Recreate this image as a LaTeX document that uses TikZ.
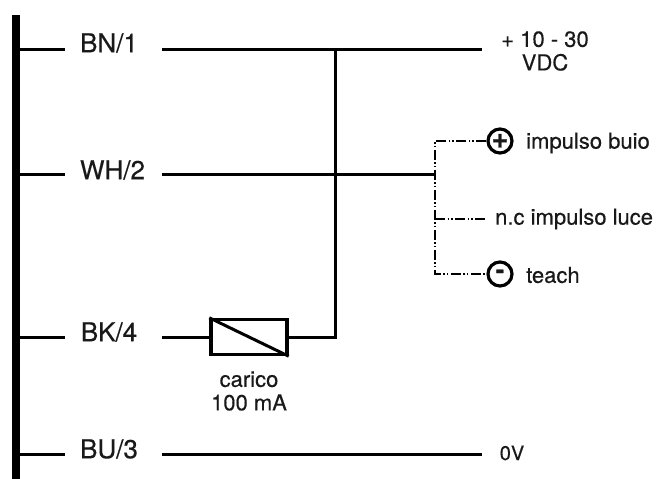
\documentclass[tikz,border=0pt]{standalone}
\usepackage{fontspec}
\setmainfont[RawFeature={embolden=0.4}]{TeX Gyre Heros}
\usepackage{tikz}
\usetikzlibrary{calc}
\usetikzlibrary{positioning}

\begin{document}
\begin{tikzpicture}[x=1pt,y=-1pt,every node/.style = {align=center,text=black!90},
wire/.style={line width=3pt,line cap=butt},
bus/.style={line width=8pt},
aux/.style={line width=1.1pt,dash pattern=on 10pt off 2.5pt on 1.5pt off 2pt on 1.5pt off 2.5pt},
pin/.style={font=\fontsize{26}{26}\selectfont,inner sep=0pt},
note/.style={font=\fontsize{22}{23.5}\selectfont,inner sep=0pt},
term/.style={circle,draw,line width=3.2pt,minimum size=24pt,inner sep=0pt,font=\fontsize{25}{25}\selectfont\bfseries},
load/.style={draw,line width=3.4pt,minimum width=76pt,minimum height=35pt,inner sep=0pt}]
\useasboundingbox (0,0) rectangle (656,479);
\coordinate (top) at (16,15);
\coordinate (bottom) at (16,479);
\draw [bus] (top) to (bottom);

% stubs on the bus
\coordinate (bn0) at (16,49);
\coordinate (wh0) at (16,174);
\coordinate (bk0) at (16,337);
\coordinate (bu0) at (16,454);
\coordinate (bn1) at (65,49);
\coordinate (wh1) at (65,174);
\coordinate (bk1) at (65,337);
\coordinate (bu1) at (65,454);
\coordinate (bn2) at (162,49);
\coordinate (wh2) at (162,174);
\coordinate (bk2) at (162,337);
\coordinate (bu2) at (162,454);
\coordinate (bn3) at (482,49);
\coordinate (bu3) at (482,454);
\coordinate (j1) at (335,49);
\coordinate (j2) at (335,337);
\coordinate (wh3) at (435,174);

\node [pin] (bn) at (109,43) {BN/1};
\node [pin] (wh) at (112.5,170) {WH/2};
\node [pin] (bk) at (109,332) {BK/4};
\node [pin] (bu) at (109,449) {BU/3};

\node [load] (coil) at (249,337) {};
\node [note] (carico) at (249,391) {carico\\100 mA};

\node [note] (vdc) at (545,51) {+ 10 - 30\\VDC};
\node [note,font=\fontsize{20}{20}\selectfont] (zero) at (512,453) {0V};

\node [term,font=\fontsize{29}{29}\selectfont\bfseries] (plus) at (500,141) {+};
\node [term] (minus) at (500,274) {-};
\coordinate (c1) at (435,141);
\coordinate (c2) at (435,219);
\coordinate (c3) at (435,274);
\coordinate (nc) at (486,219);
\node [note,anchor=west] (buio) at (526,143) {impulso buio};
\node [note,anchor=west] (luce) at (495,219) {n.c impulso luce};
\node [note,anchor=west] (teach) at (526,275) {teach};

\draw [wire] (bn0) to (bn1);
\draw [wire] (wh0) to (wh1);
\draw [wire] (bk0) to (bk1);
\draw [wire] (bu0) to (bu1);
\draw [wire] (bn2) to (bn3);
\draw [wire] (wh2) to (wh3);
\draw [wire] (bk2) to (coil.west);
\draw [wire] (bu2) to (bu3);
\draw [wire] (coil.east) to (j2) to (j1);
\draw [wire] (coil.north west) to (coil.south east);

\draw [aux] (plus.west) to (c1) to (c3) to (minus.west);
\draw [aux] (c2) to (nc);
\end{tikzpicture}
\end{document}
